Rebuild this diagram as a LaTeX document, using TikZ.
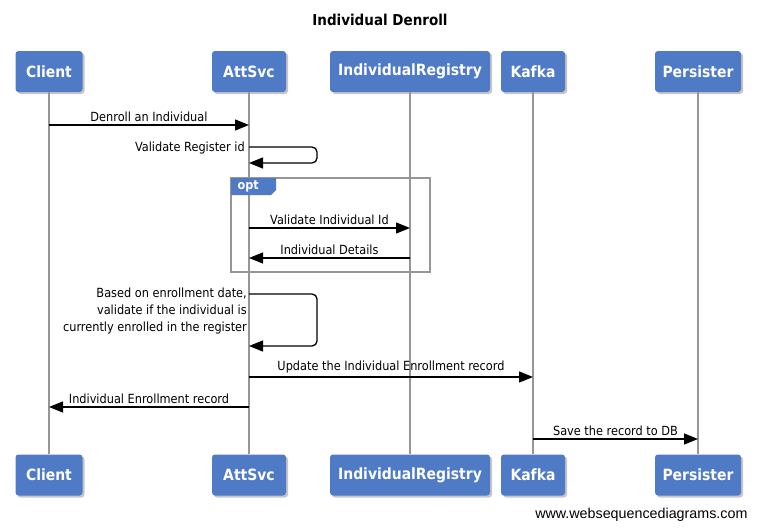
\documentclass[tikz,border=0pt]{standalone}
\usepackage{fontspec}
\setmainfont{DejaVu Sans Condensed}
\newfontfamily\webfont{Liberation Sans}
\usetikzlibrary{arrows.meta,shadows}
\definecolor{boxblue}{RGB}{79,122,198}
\definecolor{lifegray}{RGB}{150,150,150}
\tikzset{
  actor/.style={fill=boxblue, rounded corners=3pt, text=white, minimum height=41pt,
    inner sep=0pt, font=\bfseries\fontsize{15.5}{18}\selectfont,
    drop shadow={shadow xshift=2pt, shadow yshift=-2pt, opacity=0.45}},
  lifeline/.style={draw=lifegray, line width=1.5pt},
  msg/.style={line width=1.3pt, -{Triangle[length=14pt,width=11pt]}},
  msglabel/.style={font=\fontsize{12.6}{17}\selectfont, inner sep=0pt},
}
\begin{document}
\begin{tikzpicture}[x=1pt,y=-1pt]
    \useasboundingbox (0,0) rectangle (758,530);
    %% Title
    \node[font=\bfseries\fontsize{15}{18}\selectfont] (title) at (380,20) {Individual Denroll};
    %% Participants
    \node[actor, minimum width=67pt] (clientTop) at (49,71.5) {Client};
    \node[actor, minimum width=74pt] (attTop) at (249,71.5) {AttSvc};
    \node[actor, minimum width=160pt] (regTop) at (410,71.5) {IndividualRegistry};
    \node[actor, minimum width=64pt] (kafkaTop) at (533,71.5) {Kafka};
    \node[actor, minimum width=86pt] (persTop) at (698,71.5) {Persister};
    \node[actor, minimum width=67pt] (clientBot) at (49,475) {Client};
    \node[actor, minimum width=74pt] (attBot) at (249,475) {AttSvc};
    \node[actor, minimum width=160pt] (regBot) at (410,475) {IndividualRegistry};
    \node[actor, minimum width=64pt] (kafkaBot) at (533,475) {Kafka};
    \node[actor, minimum width=86pt] (persBot) at (698,475) {Persister};
    %% Lifelines
    \foreach \p in {client,att,reg,kafka,pers}
        \draw[lifeline] (\p Top.south) -- (\p Bot.north);
    %% opt frame
    \draw[draw=lifegray, line width=1.5pt] (231,178) rectangle (430,272);
    \draw[fill=boxblue, draw=none] (231,178) -- (276,178) -- (276,190) -- (271,195) -- (231,195) -- cycle;
    \node[text=white, font=\bfseries\fontsize{12.5}{14}\selectfont, anchor=west] (optTag) at (234,186.5) {opt};
    %% Messages
    \coordinate (c1) at (49,125);   \coordinate (a1) at (249,125);
    \draw[msg] (c1) -- (a1) node[msglabel, pos=0.5, above=3pt] {Denroll an Individual};
    \coordinate (a2) at (249,147);  \coordinate (a3) at (249,163);
    \draw[msg, rounded corners=5pt] (a2) -- ++(68,0) |- (a3);
    \node[msglabel, anchor=east] (lbl2) at (245,148) {Validate Register id};
    \coordinate (a4) at (249,228);  \coordinate (r4) at (410,228);
    \draw[msg] (a4) -- (r4) node[msglabel, pos=0.5, above=3pt] {Validate Individual Id};
    \coordinate (r5) at (410,258);  \coordinate (a5) at (249,258);
    \draw[msg] (r5) -- (a5) node[msglabel, pos=0.5, above=3pt] {Individual Details};
    \coordinate (a6) at (249,294);  \coordinate (a7) at (249,346);
    \draw[msg, rounded corners=5pt] (a6) -- ++(68,0) |- (a7);
    \node[msglabel, anchor=north east, align=right] (lbl6) at (247,288)
        {Based on enrollment date,\\validate if the individual is\\currently enrolled in the register};
    \coordinate (a8) at (249,377);  \coordinate (k8) at (533,377);
    \draw[msg] (a8) -- (k8) node[msglabel, pos=0.5, above=3pt] {Update the Individual Enrollment record};
    \coordinate (a9) at (249,407);  \coordinate (c9) at (49,407);
    \draw[msg] (a9) -- (c9) node[msglabel, pos=0.5, above=3pt] {Individual Enrollment record};
    \coordinate (k10) at (533,439); \coordinate (p10) at (698,439);
    \draw[msg] (k10) -- (p10) node[msglabel, pos=0.5, above=3pt] {Save the record to DB};
    %% Footer
    \node[font=\webfont\fontsize{14.3}{16}\selectfont, anchor=east] (web) at (751,515) {www.websequencediagrams.com};
\end{tikzpicture}
\end{document}
